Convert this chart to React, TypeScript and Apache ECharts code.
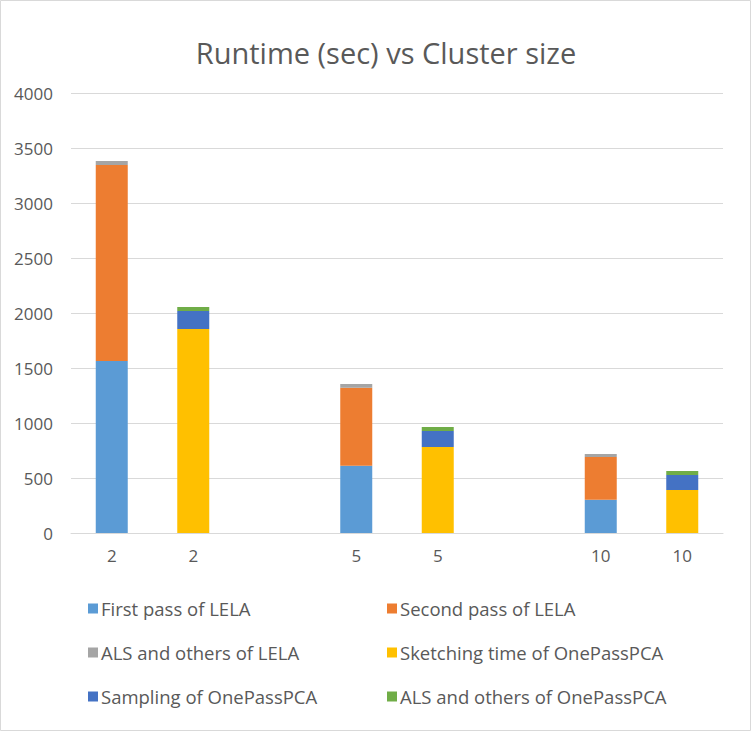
import React, { useEffect, useRef } from "react";
import * as echarts from "echarts";

const categories = ["2", "2", "", "5", "5", "", "10", "10"];
const firstPassLELA = [1564, null, null, 612, null, null, 303, null];
const secondPassLELA = [1781, null, null, 709, null, null, 388, null];
const alsLELA = [37, null, null, 34, null, null, 27, null];
const sketchingOnePass = [null, 1855, null, null, 782, null, null, 391];
const samplingOnePass = [null, 164, null, null, 145, null, null, 136];
const alsOnePass = [null, 36, null, null, 37, null, null, 37];

const seriesNames = [
  "First pass of LELA",
  "Second pass of LELA",
  "ALS and others of LELA",
  "Sketching time of OnePassPCA",
  "Sampling of OnePassPCA",
  "ALS and others of OnePassPCA",
];
const colors = ["#5b9bd5", "#ed7d31", "#a5a5a5", "#ffc000", "#4472c4", "#70ad47"];

export default function App() {
  const ref = useRef<HTMLDivElement>(null);
  useEffect(() => {
    document.body.style.margin = "0";
    const chart = echarts.init(ref.current!, null, { renderer: "svg" });
    const datas = [firstPassLELA, secondPassLELA, alsLELA, sketchingOnePass, samplingOnePass, alsOnePass];
    const font = "'Open Sans', 'Noto Sans', sans-serif";
    const legendText = { fontFamily: font, fontSize: 18.5, color: "#595959", padding: [0, 0, 0, -2] };
    chart.setOption({
      animation: false,
      backgroundColor: "#ffffff",
      color: colors,
      title: {
        text: "Runtime (sec) vs Cluster size",
        left: 381,
        textAlign: "center",
        top: 33,
        textStyle: { fontFamily: font, fontSize: 29, fontWeight: "normal", color: "#595959" },
      },
      graphic: [
        {
          type: "rect",
          shape: { x: 0.5, y: 0.5, width: 750, height: 730 },
          style: { fill: "none", stroke: "#d9d9d9", lineWidth: 1 },
          silent: true,
        },
      ],
      legend: [
        {
          data: [seriesNames[0], seriesNames[2], seriesNames[4]],
          orient: "vertical",
          left: 83,
          top: 594,
          itemWidth: 10,
          itemHeight: 10,
          itemGap: 25,
          icon: "rect",
          textStyle: legendText,
        },
        {
          data: [seriesNames[1], seriesNames[3], seriesNames[5]],
          orient: "vertical",
          left: 382,
          top: 594,
          itemWidth: 10,
          itemHeight: 10,
          itemGap: 25,
          icon: "rect",
          textStyle: legendText,
        },
      ],
      grid: { left: 71, right: 28, top: 93, bottom: 198, containLabel: false },
      xAxis: {
        type: "category",
        data: categories,
        axisLine: { lineStyle: { color: "#d9d9d9", width: 1 } },
        axisTick: { show: false },
        axisLabel: { fontFamily: font, fontSize: 17, color: "#595959", margin: 14 },
      },
      yAxis: {
        type: "value",
        min: 0,
        max: 4000,
        interval: 500,
        axisLine: { show: false },
        axisTick: { show: false },
        splitLine: { lineStyle: { color: "#d9d9d9", width: 1 } },
        axisLabel: {
          fontFamily: font,
          fontSize: 17,
          color: "#595959",
          margin: 18,
          formatter: (v: number) => String(v),
        },
      },
      series: datas.map((d, i) => ({
        name: seriesNames[i],
        type: "bar",
        stack: "total",
        data: d,
        barWidth: 32,
        itemStyle: { color: colors[i] },
      })),
    });
    return () => chart.dispose();
  }, []);
  return <div ref={ref} style={{ width: 751, height: 731 }} />;
}
